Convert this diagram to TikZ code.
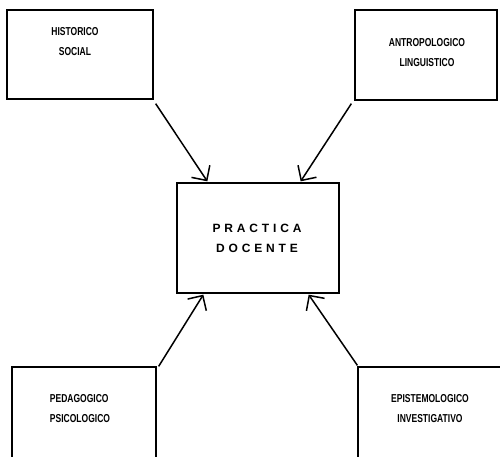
\documentclass[tikz,border=0pt]{standalone}
\usepackage{fontspec}
\usetikzlibrary{arrows.meta,calc}
\newfontfamily\lblfont[FakeStretch=0.74]{Liberation Sans}
\newfontfamily\pracfont[LetterSpace=32]{Liberation Sans}
\begin{document}
\begin{tikzpicture}[x=1pt,y=-1pt,
  box/.style={draw, line width=1.3pt, inner sep=0pt},
  lbl/.style={font=\lblfont\bfseries\fontsize{11.5}{20}\selectfont, inner sep=0pt},
  conn/.style={line width=1.5pt, -{Straight Barb[length=11pt,width=22pt,line width=1.5pt]}}]
\useasboundingbox[fill=white] (0,0) rectangle (500,457);
% boxes
\node[box, minimum width=146pt, minimum height=89pt] (hs) at (80,54.5) {};
\node[box, minimum width=142pt, minimum height=90pt] (ar) at (426,55) {};
\node[box, minimum width=162pt, minimum height=110pt] (pd) at (258,238) {};
\node[box, minimum width=144pt, minimum height=110pt] (pe) at (84,422) {};
\node[box, minimum width=160pt, minimum height=110pt] (ep) at (438,422) {};
% texts
\node[lbl, align=center] (ths) at (75,42) {HISTORICO\\SOCIAL};
\node[lbl, align=center] (tar) at (427,52.5) {ANTROPOLOGICO\\LINGUISTICO};
\node[lbl, align=left] (tpe) at (80,409) {PEDAGOGICO\\PSICOLOGICO};
\node[lbl, align=center] (tep) at (430,409) {EPISTEMOLOGICO\\INVESTIGATIVO};
\node[font=\pracfont\bfseries\fontsize{12}{20}\selectfont, align=center, inner sep=0pt] (tpd) at (257,238) {PRACTICA\\DOCENTE};
% connectors
\draw[conn] ($(hs.south east)+(2,4)$) -- ($(pd.north west)+(31,-1)$);
\draw[conn] ($(ar.south west)+(-3,3)$) -- ($(pd.north east)+(-39,-1)$);
\draw[conn] ($(pe.north east)+(2,0)$) -- ($(pd.south west)+(27,1)$);
\draw[conn] ($(ep.north west)+(0,-1)$) -- ($(pd.south east)+(-31,1)$);
\end{tikzpicture}
\end{document}
